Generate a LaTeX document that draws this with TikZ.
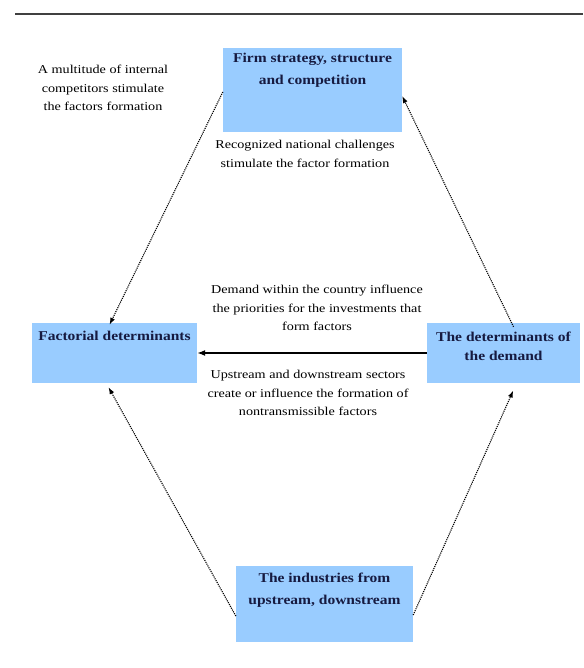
\documentclass[tikz,border=0pt]{standalone}
\usepackage{fontspec}
\setmainfont[FakeStretch=1.15]{Liberation Serif}
\newfontfamily\notefont[FakeStretch=1.18]{Liberation Serif}
\usetikzlibrary{positioning,arrows.meta}
\definecolor{boxblue}{RGB}{153,204,255}
\definecolor{boxink}{RGB}{22,26,64}
\tikzset{
  factbox/.style ={fill=boxblue,draw=none,inner sep=0pt},
  factlbl/.style ={align=center,font=\bfseries\fontsize{13.5}{21}\selectfont,text=boxink,inner sep=1pt},
  note/.style    ={align=center,font=\notefont\fontsize{12}{18.5}\selectfont,inner sep=1pt},
  flow/.style    ={-{Latex[length=7pt,width=5pt]},densely dotted,line width=1.1pt},
  push/.style    ={-{Latex[length=8pt,width=6pt]},line width=1.4pt},
}

\begin{document}
\begin{tikzpicture}[x=1pt,y=-1pt]
\useasboundingbox (0,0) rectangle (583,668);

% ===================== TOP RULE =====================================
\coordinate (ruleL) at (15,14);
\coordinate (ruleR) at (583,14);
\draw[line width=2pt,black!75] (ruleL) -- (ruleR);

% ===================== BLOCKS =======================================
\node[factbox,minimum width=179pt,minimum height=84pt] (firm) at (312.5,90)  {};
\node[factbox,minimum width=165pt,minimum height=60pt] (fact) at (114.5,353) {};
\node[factbox,minimum width=153pt,minimum height=60pt] (dem)  at (503.5,353) {};
\node[factbox,minimum width=177pt,minimum height=76pt] (ind)  at (324.5,604) {};

\node[factlbl,font=\bfseries\fontsize{13.5}{22}\selectfont,below=4pt of firm.north] (firmtxt) {Firm strategy, structure\\and competition};
\node[factlbl,below=7pt of fact.north] (facttxt) {Factorial determinants};
\node[factlbl,font=\bfseries\fontsize{13.5}{19}\selectfont,below=8pt of dem.north] (demtxt) {The determinants of\\the demand};
\node[factlbl,font=\bfseries\fontsize{13.5}{22}\selectfont,below=6pt of ind.north] (indtxt) {The industries from\\upstream, downstream};

% ===================== LABELS =======================================
\node[note] (nmulti) at (103,88)  {A multitude of internal\\competitors stimulate\\the factors formation};
\node[note] (nchal)  at (305,154) {Recognized national challenges\\stimulate the factor formation};
\node[note] (ndem)   at (317,308) {Demand within the country influence\\the priorities for the investments that\\form factors};
\node[note] (nup)    at (308,393) {Upstream and downstream sectors\\create or influence the formation of\\nontransmissible factors};

% ===================== CONNECTORS ===================================
\draw[flow] ([yshift=-2pt]firm.west) -- ([xshift=-5pt,yshift=-2pt]fact.north);
\draw[flow] ([xshift=10pt,yshift=-4pt]dem.north) -- ([yshift=-6pt]firm.east);
\draw[flow] ([yshift=-12pt]ind.west) -- ([xshift=-6pt,yshift=-4pt]fact.south);
\draw[flow,shorten >=8pt] ([yshift=-11pt]ind.east) -- ([xshift=13pt]dem.south);
\draw[push] (dem.west) -- (fact.east);

\end{tikzpicture}
\end{document}
